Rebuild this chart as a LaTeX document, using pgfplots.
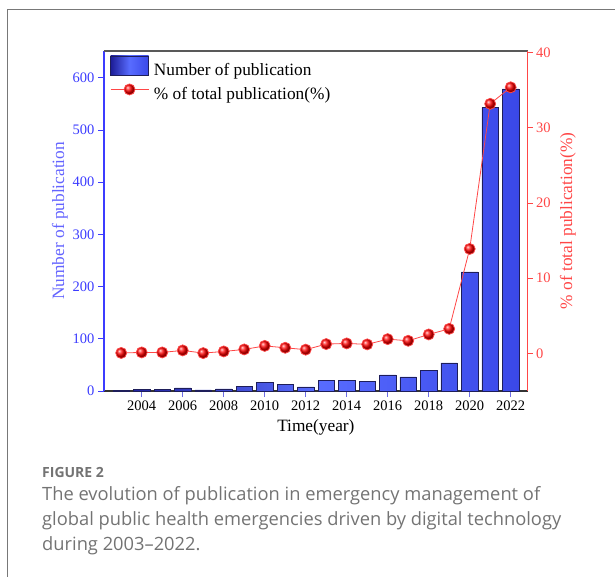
\documentclass[border=0pt]{standalone}
\usepackage{pgfplots}
\pgfplotsset{compat=1.18}
\usepackage{fontspec}
\setmainfont{Liberation Serif}
\newfontfamily\capfont{Open Sans}

\definecolor{frame}{RGB}{120,120,120}
\definecolor{leftc}{RGB}{60,60,255}
\definecolor{leftlab}{RGB}{100,100,255}
\definecolor{rightc}{RGB}{255,70,70}
\definecolor{xtickc}{RGB}{110,110,230}
\definecolor{barL}{RGB}{28,28,150}
\definecolor{barM}{RGB}{88,108,255}
\definecolor{barR}{RGB}{58,72,232}
\definecolor{barE}{RGB}{30,30,90}
\definecolor{captxt}{RGB}{115,115,115}

\begin{document}
\begin{tikzpicture}[x=1pt,y=1pt]
\useasboundingbox (0,0) rectangle (615,576);
\draw[line width=1.5pt, color=frame] (7.5,-20) -- (7.5,566.3) -- (640,566.3);

% number of publications (left axis)
\begin{axis}[
  at={(104pt,185pt)}, anchor=south west,
  scale only axis, width=423.7pt, height=340.3pt,
  xmin=2002.16, xmax=2022.83, ymin=0, ymax=652,
  axis x line*=bottom, axis y line*=left,
  axis line style={-},
  x axis line style={color=black!80, line width=1.3pt},
  y axis line style={color=leftc, line width=1.3pt},
  xtick={2004,2006,...,2022},
  ytick={0,100,...,600},
  tick align=outside,
  major tick length=6pt,
  xtick style={color=xtickc, line width=0.8pt},
  ytick style={color=leftc, line width=1pt},
  /pgf/number format/assume math mode=true,
  /pgf/number format/1000 sep={},
  xticklabel style={font=\fontsize{14.5}{16}\selectfont, text=black},
  yticklabel style={font=\fontsize{14.5}{16}\selectfont, text=leftc},
  xlabel={Time(year)},
  ylabel={Number of publication},
  every axis x label/.style={at={(axis description cs:0.5,-0.108)}, anchor=center,
    font=\fontsize{17.3}{20}\selectfont},
  every axis y label/.style={at={(axis description cs:-0.104,0.5)}, anchor=center,
    rotate=90, text=leftlab, font=\fontsize{17.3}{20}\selectfont},
]
\addplot[ybar, bar width=0.8, bar shift=0pt, draw=barE, line width=0.6pt,
  left color=barL, right color=barR, middle color=barM] coordinates {
  (2003,1) (2004,3) (2005,3) (2006,6) (2007,2) (2008,4) (2009,9) (2010,17)
  (2011,12) (2012,8) (2013,21) (2014,21) (2015,19) (2016,31) (2017,27)
  (2018,40) (2019,54) (2020,228) (2021,543) (2022,579)
};
\end{axis}

% share of total (right axis)
\begin{axis}[
  at={(104pt,185pt)}, anchor=south west,
  scale only axis, width=423.7pt, height=340.3pt,
  xmin=2002.16, xmax=2022.83, ymin=-5, ymax=40.27,
  axis x line*=top, axis y line*=right,
  axis line style={-},
  x axis line style={color=black!65, line width=1.8pt},
  y axis line style={color=rightc, line width=1pt},
  xtick=\empty,
  ytick={0,10,...,40},
  tick align=outside,
  major tick length=5pt,
  ytick style={color=rightc, line width=1pt},
  /pgf/number format/assume math mode=true,
  yticklabel style={font=\fontsize{14.5}{16}\selectfont, text=rightc},
  ylabel={\% of total publication(\%)},
  every axis y label/.style={at={(axis description cs:1.095,0.5)}, anchor=center,
    rotate=90, text=rightc, font=\fontsize{17.3}{20}\selectfont},
  legend style={at={(axis description cs:0.014,0.986)}, anchor=north west,
    draw=none, fill=none, inner sep=0pt, row sep=4pt,
    font=\fontsize{17.3}{20}\selectfont,
    nodes={inner sep=1pt, text depth=3pt},
    /tikz/every odd column/.append style={column sep=4pt}},
  legend cell align=left,
]
\addlegendimage{legend image code/.code={
  \shade[left color=barL, right color=barR, middle color=barM, draw=barE, line width=0.6pt]
    (0pt,-4pt) rectangle (38pt,15pt);}}
\addlegendentry{Number of publication}
\addplot[color=rightc, line width=0.8pt, mark=ball, mark size=5.5pt,
  mark options={ball color=red},
  legend image code/.code={
    \draw[color=rightc, line width=0.8pt] (0pt,5pt) -- (38pt,5pt);
    \shade[ball color=red] (19pt,5pt) circle (5.5pt);}] coordinates {
  (2003,0.06) (2004,0.13) (2005,0.13) (2006,0.4) (2007,0.04) (2008,0.26)
  (2009,0.53) (2010,1.0) (2011,0.75) (2012,0.5) (2013,1.24) (2014,1.33)
  (2015,1.2) (2016,1.9) (2017,1.68) (2018,2.52) (2019,3.27) (2020,13.9)
  (2021,33.2) (2022,35.4)
};
\addlegendentry{\% of total publication(\%)}
\end{axis}

\node[anchor=base west, inner sep=0pt, text=captxt, font=\capfont\bfseries\fontsize{14}{16}\selectfont]
  at (42,99) {FIGURE 2};
\node[anchor=base west, inner sep=0pt, text=captxt, font=\capfont\fontsize{18.3}{20}\selectfont]
  at (42,76) {The evolution of publication in emergency management of};
\node[anchor=base west, inner sep=0pt, text=captxt, font=\capfont\fontsize{18.3}{20}\selectfont]
  at (42,51) {global public health emergencies driven by digital technology};
\node[anchor=base west, inner sep=0pt, text=captxt, font=\capfont\fontsize{18.3}{20}\selectfont]
  at (42,26) {during 2003–2022.};
\end{tikzpicture}
\end{document}
